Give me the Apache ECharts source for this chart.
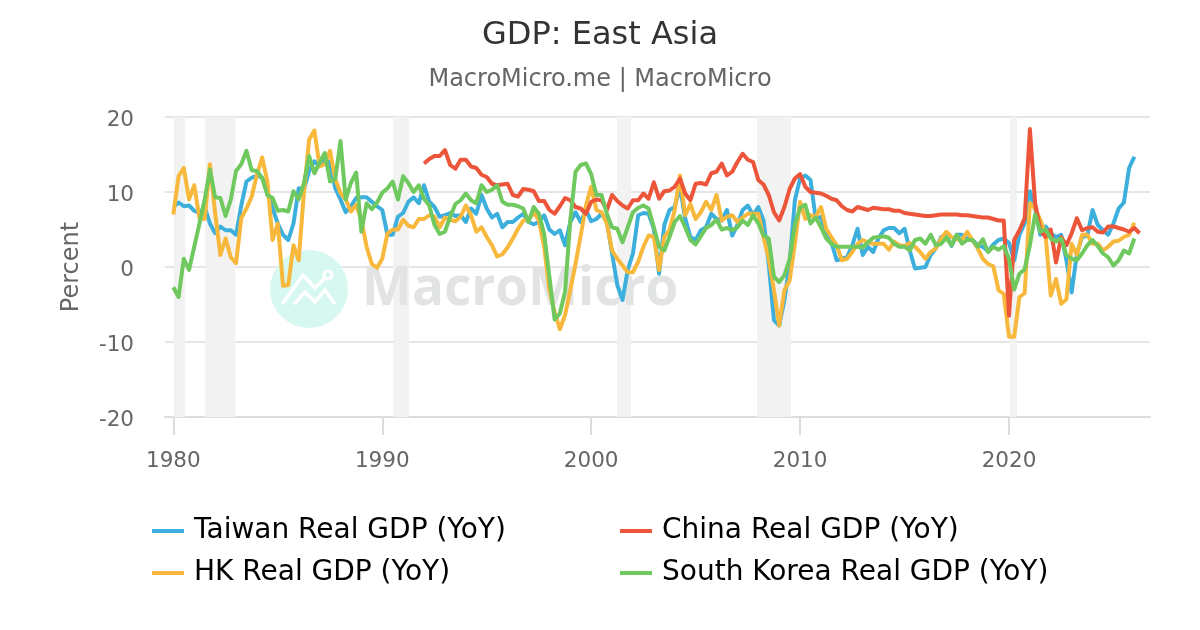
<!DOCTYPE html>
<html>
<head>
<meta charset="utf-8">
<title>GDP: East Asia</title>
<script src="https://cdn.jsdelivr.net/npm/echarts@6/dist/echarts.min.js"></script>
<style>html,body{margin:0;padding:0;background:#fff}#chart{width:1200px;height:630px}</style>
</head>
<body>
<div id="chart"></div>
<script>
// Quarterly year-on-year real GDP growth, percent. Series begin at 1980 Q1 unless noted.
const startYear = 1980;
const xTicks = [1980, 1990, 2000, 2010, 2020];
const yTicks = [-20, -10, 0, 10, 20];
const recessions = [[1980.02, 1980.57], [1981.53, 1982.97], [1990.53, 1991.29], [2001.24, 2001.91], [2007.94, 2009.57], [2020.05, 2020.38]];

const taiwan = [
  8.0, 8.6, 8.1, 8.2, 7.5, 7.2, 8.0, 5.8, 4.5, 5.4, 4.9, 4.9, 4.3, 8.2, 11.4, 11.9,
  12.2, 11.9, 9.9, 7.8, 5.8, 4.3, 3.6, 5.8, 10.5, 10.3, 12.8, 14.1, 13.5, 14.5, 13.9, 10.5,
  9.0, 7.3, 8.1, 9.2, 9.3, 9.3, 8.7, 8.1, 7.6, 4.3, 4.3, 6.7, 7.2, 8.7, 9.3, 8.5,
  10.9, 8.7, 8.0, 6.7, 6.9, 7.2, 6.8, 6.9, 6.0, 7.8, 7.1, 9.6, 7.8, 6.6, 7.1, 5.3,
  6.0, 6.0, 6.6, 7.1, 6.0, 5.7, 6.0, 6.9, 5.0, 4.4, 4.9, 2.9, 6.0, 7.3, 6.0, 7.6,
  6.1, 6.4, 7.1, 6.0, 1.8, -2.4, -4.4, -0.4, 1.8, 6.9, 7.2, 7.1, 5.1, -0.9, 5.6, 7.6,
  8.0, 10.7, 6.5, 4.0, 3.6, 4.9, 5.3, 7.1, 6.4, 6.2, 7.6, 4.2, 5.6, 7.6, 8.2, 6.9,
  8.0, 6.2, 0.4, -7.1, -7.8, -4.4, 0.4, 8.9, 11.8, 12.2, 11.6, 6.4, 6.7, 4.4, 3.3, 0.9,
  1.1, 1.3, 2.9, 5.1, 1.6, 2.7, 2.0, 3.8, 4.9, 5.2, 5.2, 4.5, 5.1, 2.2, -0.2, -0.1,
  0.0, 1.6, 2.5, 4.0, 4.3, 2.8, 4.3, 4.3, 3.8, 3.6, 2.9, 2.7, 2.1, 3.0, 3.6, 3.8,
  3.2, 0.9, 4.3, 5.8, 10.1, 7.8, 4.3, 5.4, 4.5, 4.0, 4.3, 0.9, -3.4, 1.8, 4.0, 4.2,
  7.6, 5.6, 4.9, 4.3, 5.8, 7.8, 8.6, 13.2, 14.7
];
const hongKong = [
  7.0, 12.1, 13.2, 9.0, 10.9, 6.5, 6.4, 13.7, 7.2, 1.6, 3.8, 1.3, 0.5, 6.5, 7.8, 9.4,
  12.3, 14.6, 11.4, 3.6, 5.8, -2.5, -2.4, 2.9, 0.9, 9.9, 17.0, 18.2, 13.4, 13.7, 15.5, 11.7,
  9.9, 9.0, 7.4, 8.3, 6.3, 2.7, 0.4, -0.1, 1.1, 4.5, 5.0, 5.0, 6.3, 5.5, 5.3, 6.4,
  6.4, 6.9, 6.7, 5.3, 6.6, 6.3, 6.1, 6.7, 8.2, 6.9, 4.7, 5.3, 4.0, 2.9, 1.4, 1.7,
  2.6, 3.8, 5.1, 6.2, 6.3, 7.3, 6.2, 2.7, -3.1, -6.0, -8.3, -6.4, -3.1, 0.4, 4.2, 8.2,
  10.7, 7.6, 7.3, 5.8, 2.2, 1.1, 0.2, -0.7, -0.7, 0.7, 2.7, 4.2, 4.0, -0.4, 4.0, 4.9,
  7.6, 12.2, 6.9, 8.4, 6.4, 7.3, 8.7, 7.6, 9.6, 6.2, 6.7, 6.9, 6.0, 6.6, 7.1, 7.1,
  7.1, 4.0, 1.1, -3.1, -7.8, -3.1, -1.8, 3.1, 8.7, 6.4, 6.9, 6.7, 8.0, 5.1, 4.0, 2.9,
  0.9, 1.1, 2.0, 3.1, 3.6, 3.3, 3.1, 3.1, 3.1, 2.3, 3.4, 2.9, 2.8, 3.2, 2.7, 2.0,
  1.1, 2.0, 2.5, 3.8, 4.7, 4.0, 3.7, 3.6, 4.7, 3.6, 2.5, 1.1, 0.4, 0.1, -3.1, -3.6,
  -9.3, -9.3, -4.0, -3.5, 8.5, 7.8, 6.3, 4.3, -3.8, -1.6, -4.9, -4.3, 3.1, 1.6, 4.3, 4.3,
  3.1, 3.1, 2.2, 2.7, 3.4, 3.5, 4.0, 4.3, 5.9
];
// China's quarterly figures start in 1992.
const chinaStartYear = 1992;
const china = [
  13.8, 14.4, 14.8, 14.8, 15.6, 13.6, 13.1, 14.3, 14.3, 13.4, 13.2, 12.3, 12.0, 11.1, 10.9, 11.0,
  11.1, 9.6, 9.4, 10.4, 10.3, 10.1, 8.8, 8.8, 7.6, 7.1, 8.1, 9.2, 8.9, 8.0, 7.8, 7.1,
  8.7, 9.0, 8.9, 7.6, 9.6, 8.8, 8.2, 7.8, 8.9, 8.9, 9.8, 9.1, 11.3, 9.1, 10.1, 10.2,
  10.7, 11.8, 9.8, 8.9, 11.1, 11.2, 11.0, 12.5, 12.7, 13.8, 12.2, 12.7, 14.0, 15.1, 14.3, 14.0,
  11.6, 11.0, 9.6, 7.3, 6.2, 8.0, 10.4, 11.8, 12.4, 10.7, 10.0, 9.9, 9.8, 9.5, 9.1, 8.9,
  8.1, 7.6, 7.4, 8.0, 7.8, 7.6, 7.9, 7.8, 7.7, 7.7, 7.5, 7.5, 7.2, 7.1, 7.0, 6.9,
  6.8, 6.8, 6.9, 7.0, 7.0, 7.0, 7.0, 6.9, 6.9, 6.8, 6.7, 6.6, 6.6, 6.4, 6.2, 6.2,
  -6.5, 3.6, 4.9, 6.5, 18.4, 8.5, 4.9, 4.0, 5.0, 0.6, 4.0, 2.9, 4.5, 6.5, 4.9, 5.2,
  5.3, 4.7, 4.6, 5.4, 5.4, 5.2, 5.0, 4.7, 5.2, 4.5
];
const southKorea = [
  -2.7, -4.0, 1.1, -0.4, 2.7, 5.8, 9.0, 13.0, 9.3, 9.2, 6.8, 9.0, 12.8, 13.7, 15.5, 12.9,
  12.8, 11.9, 9.6, 9.2, 7.5, 7.6, 7.4, 10.1, 9.0, 11.2, 14.8, 12.5, 13.9, 15.2, 11.4, 11.7,
  16.8, 9.0, 11.2, 12.6, 4.7, 8.5, 7.7, 8.6, 9.9, 10.5, 11.4, 9.0, 12.1, 11.2, 10.0, 10.9,
  9.1, 8.2, 5.6, 4.4, 4.7, 6.7, 8.4, 8.9, 9.8, 8.9, 8.5, 10.9, 10.0, 10.3, 10.9, 8.7,
  8.3, 8.3, 8.1, 7.8, 6.0, 8.0, 7.1, 4.4, -1.3, -7.0, -6.2, -3.3, 6.2, 12.7, 13.6, 13.8,
  12.4, 9.6, 9.6, 7.1, 5.3, 5.1, 3.3, 5.3, 7.3, 7.9, 8.2, 7.8, 5.3, 2.7, 2.2, 4.0,
  6.0, 6.8, 5.3, 3.6, 3.0, 4.1, 5.2, 5.6, 6.3, 5.0, 5.2, 4.9, 5.3, 6.2, 5.6, 6.9,
  5.8, 4.2, 3.8, -1.3, -2.0, -1.1, 1.1, 5.6, 7.9, 8.3, 5.8, 6.6, 5.3, 3.8, 3.1, 2.7,
  2.7, 2.7, 2.7, 2.7, 2.6, 3.3, 3.9, 4.0, 4.1, 3.9, 3.1, 2.7, 2.7, 2.2, 3.6, 3.8,
  3.1, 4.3, 2.9, 3.1, 3.9, 2.9, 4.3, 3.1, 3.6, 3.6, 2.7, 3.7, 2.0, 2.7, 2.3, 2.8,
  1.1, -3.0, -0.9, -0.3, 2.9, 7.0, 4.7, 5.0, 3.8, 3.4, 3.8, 1.6, 1.1, 0.9, 1.8, 2.9,
  3.6, 2.8, 1.8, 1.3, 0.2, 0.9, 2.2, 1.8, 3.8
];

const toPoints = (values, from) => values.map((v, i) => [from + i / 4, v]);
const tickColor = '#dddddd';
const textGrey = '#666666';
const fontFamily = '"DejaVu Sans", sans-serif';

const seriesDefs = [
  { name: 'Taiwan Real GDP (YoY)', color: '#3dafdc', data: toPoints(taiwan, startYear) },
  { name: 'HK Real GDP (YoY)', color: '#f7b83b', data: toPoints(hongKong, startYear) },
  { name: 'China Real GDP (YoY)', color: '#ec553a', data: toPoints(china, chinaStartYear) },
  { name: 'South Korea Real GDP (YoY)', color: '#6fc95f', data: toPoints(southKorea, startYear) }
];

const legendBase = {
  orient: 'vertical', top: 512, itemWidth: 32, itemHeight: 4, itemGap: 14, icon: 'rect',
  textStyle: { fontSize: 28, color: '#000', fontFamily: fontFamily, padding: [0, 0, 0, 5] }
};

const chart = echarts.init(document.getElementById('chart'), null, { renderer: 'canvas' });
chart.setOption({
  animation: false,
  backgroundColor: '#fff',
  title: {
    text: 'GDP: East Asia', subtext: 'MacroMicro.me | MacroMicro',
    left: 'center', top: 15, itemGap: 16,
    textStyle: { fontSize: 32, fontWeight: 'normal', color: '#333', fontFamily: fontFamily },
    subtextStyle: { fontSize: 24, color: textGrey, fontFamily: fontFamily }
  },
  legend: [
    Object.assign({}, legendBase, { left: 147, data: [seriesDefs[0].name, seriesDefs[1].name] }),
    Object.assign({}, legendBase, { left: 615, data: [seriesDefs[2].name, seriesDefs[3].name] })
  ],
  grid: { left: 165, right: 50, top: 117, height: 300, containLabel: false },
  xAxis: {
    type: 'value', min: 1979.6, max: 2026.75,
    splitLine: { show: false },
    axisLine: { show: true, onZero: false, lineStyle: { color: tickColor, width: 2 } },
    axisTick: { show: true, length: 18, lineStyle: { color: tickColor, width: 2 }, customValues: xTicks },
    axisLabel: { color: textGrey, fontSize: 21.5, fontFamily: fontFamily, margin: 33, customValues: xTicks, formatter: v => String(v) }
  },
  yAxis: {
    type: 'value', min: yTicks[0], max: yTicks[4], interval: 10,
    name: 'Percent', nameLocation: 'middle', nameGap: 81, nameRotate: 90,
    nameTextStyle: { color: textGrey, fontSize: 24, fontFamily: fontFamily },
    axisLine: { show: false }, axisTick: { show: false },
    splitLine: { lineStyle: { color: '#e6e6e6', width: 2 } },
    axisLabel: { color: textGrey, fontSize: 21.5, fontFamily: fontFamily, margin: 31, verticalAlign: 'top', lineHeight: 6 }
  },
  graphic: [
    { type: 'circle', z: 5, silent: true, shape: { cx: 309, cy: 289, r: 39 }, style: { fill: '#d6f8f1' } },
    { type: 'polyline', z: 5, silent: true, shape: { points: [[283, 303], [303, 275], [315, 288], [325, 278]] }, style: { fill: null, stroke: '#fff', lineWidth: 3.5, lineCap: 'round' } },
    { type: 'polyline', z: 5, silent: true, shape: { points: [[295, 303], [305, 292], [315, 302], [325, 290], [334, 303]] }, style: { fill: null, stroke: '#fff', lineWidth: 3.5, lineCap: 'round' } },
    { type: 'circle', z: 5, silent: true, shape: { cx: 328, cy: 275, r: 4 }, style: { fill: '#d6f8f1', stroke: '#fff', lineWidth: 3 } },
    { type: 'text', z: 5, silent: true, x: 362, y: 290, style: { text: 'MacroMicro', fontSize: 53, fontWeight: 700, fontFamily: '"Open Sans", sans-serif', fill: '#e2e4e4', textVerticalAlign: 'middle' } }
  ],
  series: seriesDefs.map((s, idx) => ({
    name: s.name, type: 'line', data: s.data, showSymbol: false, smooth: false,
    z: 10 + idx, silent: true,
    lineStyle: { color: s.color, width: 4, join: 'round' },
    itemStyle: { color: s.color },
    markArea: idx === 0 ? {
      silent: true, z: 1,
      itemStyle: { color: '#f2f2f2' },
      data: recessions.map(r => [{ xAxis: r[0] }, { xAxis: r[1] }])
    } : undefined
  }))
});
</script>
</body>
</html>
